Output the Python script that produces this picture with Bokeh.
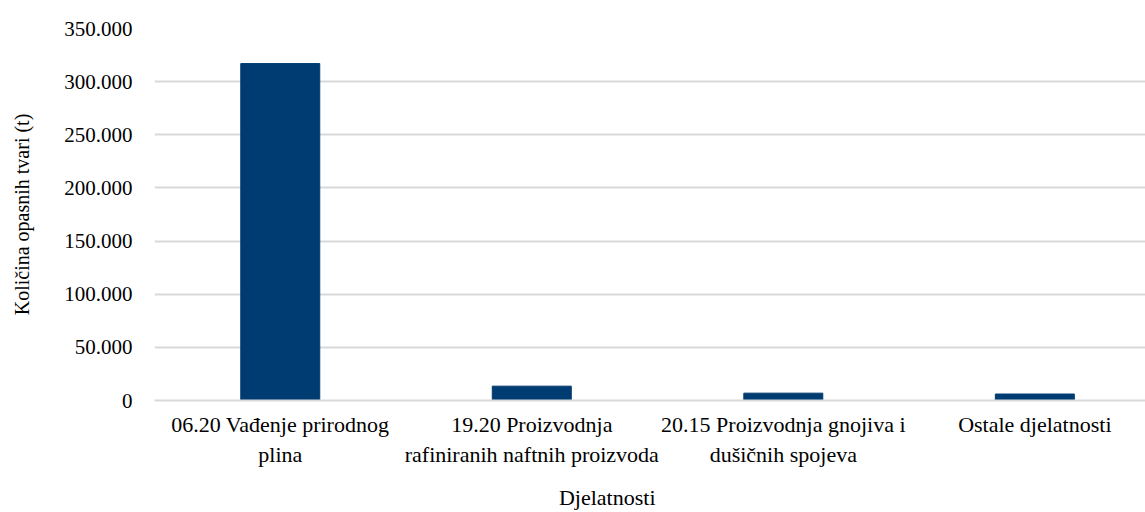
from bokeh.plotting import figure
from bokeh.models import FixedTicker, LinearAxis, Range1d
from bokeh.embed import file_html
from bokeh.resources import INLINE

categories = ["06.20 Vađenje prirodnog\nplina",
              "19.20 Proizvodnja\nrafiniranih naftnih proizvoda",
              "20.15 Proizvodnja gnojiva i\ndušičnih spojeva",
              "Ostale djelatnosti"]
values = [317000, 13500, 6900, 6100]
y_ticks = [0, 50000, 100000, 150000, 200000, 250000, 300000, 350000]
y_tick_labels = ["0", "50.000", "100.000", "150.000", "200.000", "250.000", "300.000", "350.000"]
x_title = "Djelatnosti"
y_title = "Količina opasnih tvari (t)"

FONT = "Liberation Serif"
xs = list(range(len(categories)))

p = figure(width=1145, height=512, output_backend="svg", toolbar_location=None,
           x_range=Range1d(-0.5, 3.44), y_range=Range1d(0, 350000),
           min_border_left=154, min_border_right=0, min_border_top=28, min_border_bottom=112)
p.outline_line_color = None
p.background_fill_color = "white"

p.vbar(x=xs, top=values, width=0.314, color="#003B71")

xa = p.xaxis[0]
ya = p.yaxis[0]
xa.ticker = FixedTicker(ticks=xs)
xa.major_label_overrides = {i: c for i, c in enumerate(categories)}
ya.ticker = FixedTicker(ticks=y_ticks)
ya.major_label_overrides = {t: l for t, l in zip(y_ticks, y_tick_labels)}

for ax in (xa, ya):
    ax.major_tick_line_color = None
    ax.minor_tick_line_color = None
    ax.major_label_text_font = FONT
    ax.major_label_text_color = "black"
    ax.axis_label_text_font = FONT
    ax.axis_label_text_font_style = "normal"
    ax.axis_label_text_color = "black"

xa.major_label_text_font_size = "22px"
ya.major_label_text_font_size = "21px"
ya.axis_label_text_font_size = "20px"

ya.axis_line_color = None
ya.major_label_standoff = 16
ya.axis_label = y_title
ya.axis_label_standoff = 28
xa.axis_line_color = "#d9d9d9"
xa.axis_line_width = 2
xa.major_label_standoff = 5

# x-axis title, placed as a second (line-less) axis so it can sit off-centre as in the original
TITLE_POS = 1.3
title_axis = LinearAxis(ticker=FixedTicker(ticks=[TITLE_POS]),
                        major_label_overrides={TITLE_POS: x_title},
                        axis_line_color=None, major_tick_line_color=None,
                        minor_tick_line_color=None, major_label_standoff=9,
                        major_label_text_font=FONT, major_label_text_font_size="22px",
                        major_label_text_color="black")
p.add_layout(title_axis, "below")

p.xgrid.grid_line_color = None
p.ygrid.grid_line_color = "#d9d9d9"
p.ygrid.grid_line_width = 2
p.ygrid.ticker = FixedTicker(ticks=y_ticks)

open("out.html", "w").write(file_html(p, INLINE))
